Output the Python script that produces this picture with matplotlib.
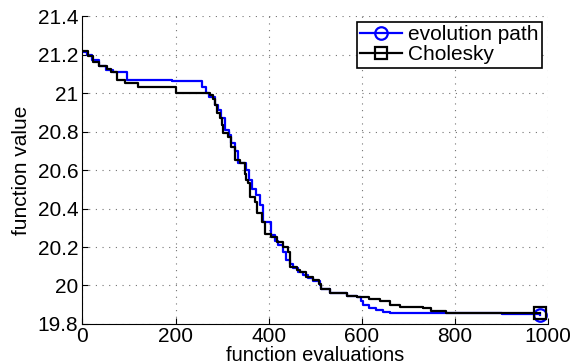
import numpy as np
import matplotlib
matplotlib.use('Agg')
import matplotlib.pyplot as plt

plt.rcParams['font.family'] = ['Liberation Sans', 'DejaVu Sans']

# evolution path (step curve: evaluations where the best value changes)
evo_x = [0, 10, 20, 35, 50, 65, 95, 192, 256, 266, 272, 285, 292, 298, 306, 314,
         320, 327, 334, 352, 358, 364, 372, 381, 388, 405, 413, 420, 431, 438, 445,
         452, 462, 474, 485, 495, 510, 513, 531, 567, 589, 598, 603, 615, 631, 645,
         660, 700, 781, 900, 982]
evo_y = [21.215, 21.2, 21.17, 21.14, 21.12, 21.11, 21.07, 21.06, 21.03, 21.0, 20.98,
         20.94, 20.91, 20.87, 20.81, 20.78, 20.74, 20.70, 20.635, 20.60, 20.55, 20.50,
         20.47, 20.42, 20.33, 20.26, 20.23, 20.21, 20.176, 20.133, 20.11, 20.09, 20.07,
         20.055, 20.04, 20.025, 20.003, 19.98, 19.96, 19.946, 19.94, 19.92, 19.90,
         19.885, 19.873, 19.862, 19.859, 19.857, 19.855, 19.85, 19.847]

# Cholesky
chol_x = [0, 12, 22, 36, 52, 62, 74, 92, 120, 202, 274, 281, 285, 288, 295, 299, 302,
          313, 320, 327, 338, 349, 352, 356, 360, 370, 374, 385, 392, 406, 417, 431,
          442, 445, 460, 467, 481, 495, 509, 513, 531, 567, 589, 615, 638, 660, 682,
          731, 749, 781, 870, 982]
chol_y = [21.22, 21.19, 21.16, 21.14, 21.125, 21.11, 21.067, 21.05, 21.03, 21.0, 20.99,
          20.97, 20.94, 20.895, 20.87, 20.834, 20.79, 20.773, 20.72, 20.652, 20.635,
          20.58, 20.55, 20.53, 20.46, 20.435, 20.375, 20.33, 20.27, 20.254, 20.228, 20.2,
          20.176, 20.098, 20.08, 20.07, 20.046, 20.03, 20.01, 19.98, 19.96, 19.946, 19.94,
          19.93, 19.92, 19.90, 19.89, 19.882, 19.868, 19.859, 19.856, 19.855]

fig = plt.figure(figsize=(5.74, 3.64), dpi=100)
ax = fig.add_axes([0.1434, 0.1099, 0.8118, 0.8461])

ax.plot(evo_x, evo_y, color='#0000ff', lw=1.6, drawstyle='steps-post',
        marker='o', markevery=[-1], markersize=9, mfc='none', mew=1.6,
        label='evolution path')
ax.plot(chol_x, chol_y, color='black', lw=1.6, drawstyle='steps-post',
        marker='s', markevery=[-1], markersize=8, mfc='none', mew=1.6,
        label='Cholesky')

ax.set_xlim(0, 1000)
ax.set_ylim(19.8, 21.4)
ax.set_xticks([0, 200, 400, 600, 800, 1000])
ax.set_yticks([19.8, 20.0, 20.2, 20.4, 20.6, 20.8, 21.0, 21.2, 21.4])
ax.set_yticklabels(['19.8', '20', '20.2', '20.4', '20.6', '20.8', '21', '21.2', '21.4'])
ax.tick_params(direction='in', length=4, labelsize=15, pad=3)
ax.tick_params(axis='x', pad=2)
ax.spines['top'].set_visible(False)
ax.spines['right'].set_visible(False)
ax.grid(True, color='0.45', linestyle=(0, (1, 5)), linewidth=0.8)

ax.set_xlabel('function evaluations', fontsize=14.5, labelpad=0)
ax.set_ylabel('function value', fontsize=15, labelpad=5)

leg = ax.legend(loc='upper right', fontsize=15, fancybox=False, framealpha=1,
                edgecolor='black', borderpad=0.15, handlelength=2.0,
                handletextpad=0.3, labelspacing=0.05, borderaxespad=0.3)
leg.get_frame().set_linewidth(1.2)

fig.savefig('out.png', dpi=100)
